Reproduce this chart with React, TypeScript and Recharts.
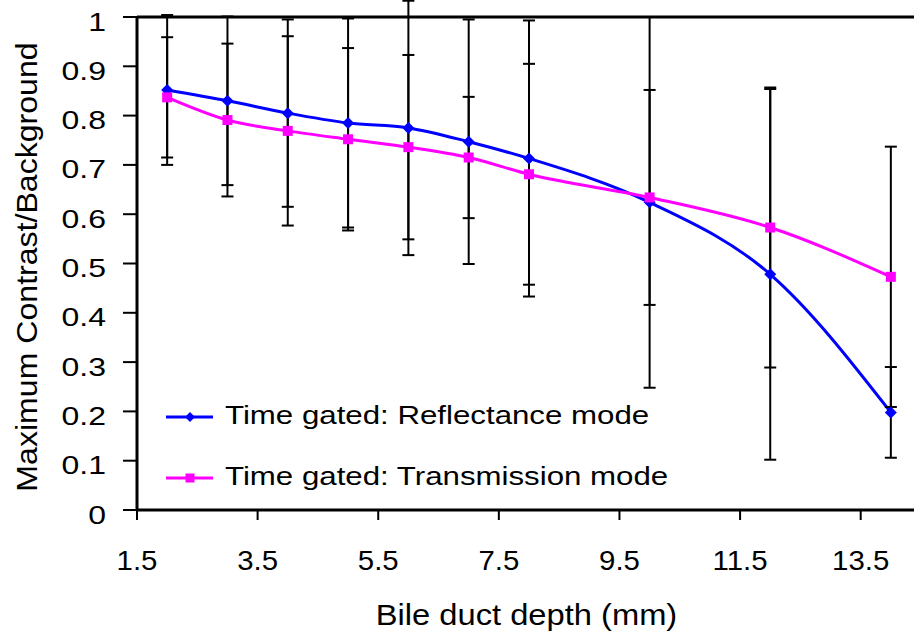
import { ErrorBar, Legend, Line, LineChart, ReferenceLine, XAxis, YAxis } from "recharts";

const depths = [2, 3, 4, 5, 6, 7, 8, 10, 12, 14];
const reflectance = [0.852, 0.83, 0.805, 0.785, 0.775, 0.747, 0.713, 0.624, 0.478, 0.198];
const reflectanceErr = [0.152, 0.171, 0.19, 0.212, 0.258, 0.248, 0.28, 0.376, 0.376, 0.092];
const transmission = [0.837, 0.791, 0.769, 0.752, 0.736, 0.715, 0.681, 0.634, 0.573, 0.473];
const transmissionErr = [0.122, 0.155, 0.192, 0.185, 0.187, 0.123, 0.224, 0.218, 0.284, 0.264];

const xTicks = [1.5, 3.5, 5.5, 7.5, 9.5, 11.5, 13.5];
const yTicks = [0, 0.1, 0.2, 0.3, 0.4, 0.5, 0.6, 0.7, 0.8, 0.9, 1];

const REFL_NAME = "Time gated: Reflectance mode";
const TRANS_NAME = "Time gated: Transmission mode";

const data = depths.map((d, i) => ({
  depth: d,
  refl: reflectance[i],
  reflErr: reflectanceErr[i],
  trans: transmission[i],
  transErr: transmissionErr[i],
}));

const FONT = '"Liberation Sans", Arial, sans-serif';
const BLUE = "#0000ff";
const PINK = "#ff00ff";

function Diamond({ cx, cy, fill, r = 6 }: any) {
  if (cx == null || cy == null) return null;
  return (
    <polygon
      points={`${cx},${cy - r} ${cx + r},${cy} ${cx},${cy + r} ${cx - r},${cy}`}
      fill={fill}
    />
  );
}

function Square({ cx, cy, fill, s = 10 }: any) {
  if (cx == null || cy == null) return null;
  return <rect x={cx - s / 2} y={cy - s / 2} width={s} height={s} fill={fill} />;
}

function XTick({ x, y, payload }: any) {
  return (
    <text
      transform={`translate(${x},${y + 50}) scale(1.05,1)`}
      textAnchor="middle"
      fontSize={28}
      fontFamily={FONT}
      fill="#000"
    >
      {String(payload.value)}
    </text>
  );
}

function YTick({ x, y, payload }: any) {
  return (
    <text
      transform={`translate(${x - 17},${y + 13.5}) scale(1.28,1)`}
      textAnchor="end"
      fontSize={25}
      fontFamily={FONT}
      fill="#000"
    >
      {String(payload.value)}
    </text>
  );
}

function YTitle({ viewBox }: any) {
  const vb = viewBox ?? { x: 0, y: 17, width: 137, height: 493 };
  const cx = vb.x + 37;
  const cy = vb.y + vb.height / 2 + 3.5;
  return (
    <text
      transform={`translate(${cx},${cy}) rotate(-90) scale(1.07,1)`}
      textAnchor="middle"
      fontSize={30}
      fontFamily={FONT}
      fill="#000"
    >
      Maximum Contrast/Background
    </text>
  );
}

function XTitle({ viewBox }: any) {
  const vb = viewBox ?? { x: 137, y: 510, width: 784, height: 125 };
  const cx = vb.x + vb.width / 2 - 2.5;
  const cy = vb.y + 115;
  return (
    <text
      transform={`translate(${cx},${cy}) scale(1.09,1)`}
      textAnchor="middle"
      fontSize={30}
      fontFamily={FONT}
      fill="#000"
    >
      Bile duct depth (mm)
    </text>
  );
}

function LegendBox({ payload }: any) {
  const items = payload ?? [];
  return (
    <svg width={520} height={100} style={{ display: "block", overflow: "visible" }}>
      {items.map((item: any, i: number) => {
        const cy = 30 + i * 61;
        const isRefl = item.dataKey === "refl";
        return (
          <g key={item.value}>
            <line x1={0} x2={47} y1={cy} y2={cy} stroke={item.color} strokeWidth={3} />
            {isRefl ? (
              <Diamond cx={24} cy={cy} fill={item.color} r={5} />
            ) : (
              <Square cx={24} cy={cy} fill={item.color} s={9} />
            )}
            <text
              transform={`translate(59,${cy + 6.5}) scale(1.25,1)`}
              fontSize={25}
              fontFamily={FONT}
              fill="#000"
            >
              {item.value}
            </text>
          </g>
        );
      })}
    </svg>
  );
}

export default function App() {
  return (
    <div
      style={{
        position: "absolute",
        left: 0,
        top: 0,
        width: 914,
        height: 635,
        overflow: "hidden",
        background: "#fff",
      }}
    >
      <LineChart
        width={930}
        height={635}
        data={data}
        margin={{ top: 17, right: 9, bottom: 0, left: 0 }}
      >
        <XAxis
          dataKey="depth"
          type="number"
          domain={[1.5, 14.5]}
          ticks={xTicks}
          allowDataOverflow
          height={125}
          tickSize={10}
          tickMargin={0}
          axisLine={{ stroke: "#000", strokeWidth: 3 }}
          tickLine={{ stroke: "#000", strokeWidth: 2 }}
          tick={<XTick />}
          label={{ content: (p: any) => <XTitle {...p} /> }}
        />
        <YAxis
          type="number"
          domain={[0, 1]}
          ticks={yTicks}
          allowDataOverflow
          width={137}
          tickSize={14}
          tickMargin={0}
          axisLine={{ stroke: "#000", strokeWidth: 3 }}
          tickLine={{ stroke: "#000", strokeWidth: 2 }}
          tick={<YTick />}
          label={{ content: (p: any) => <YTitle {...p} /> }}
        />
        <ReferenceLine y={1} stroke="#000" strokeWidth={3} />
        <Line
          type="monotone"
          dataKey="refl"
          name={REFL_NAME}
          stroke={BLUE}
          strokeWidth={3}
          dot={(p: any) => <Diamond key={`d${p.index}`} cx={p.cx} cy={p.cy} fill={BLUE} />}
          activeDot={false}
          isAnimationActive={false}
        >
          <ErrorBar
            dataKey="reflErr"
            direction="y"
            width={6}
            stroke="#000"
            strokeWidth={2}
            isAnimationActive={false}
          />
        </Line>
        <Line
          type="monotone"
          dataKey="trans"
          name={TRANS_NAME}
          stroke={PINK}
          strokeWidth={3}
          dot={(p: any) => <Square key={`s${p.index}`} cx={p.cx} cy={p.cy} fill={PINK} />}
          activeDot={false}
          isAnimationActive={false}
        >
          <ErrorBar
            dataKey="transErr"
            direction="y"
            width={6}
            stroke="#000"
            strokeWidth={2}
            isAnimationActive={false}
          />
        </Line>
        <Legend
          layout="vertical"
          align="center"
          verticalAlign="middle"
          content={<LegendBox />}
          wrapperStyle={{ left: 166, top: 387, width: 520, height: 100 }}
        />
      </LineChart>
    </div>
  );
}
